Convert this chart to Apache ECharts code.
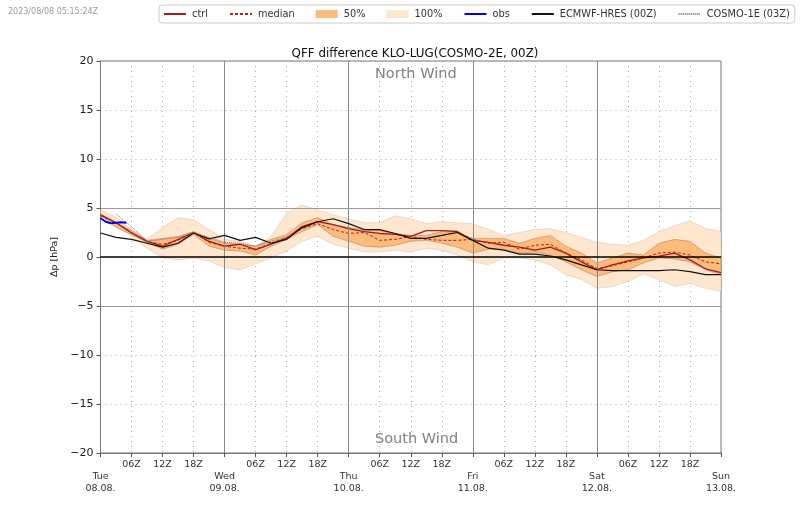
<!DOCTYPE html>
<html><head><meta charset="utf-8">
<style>html,body{margin:0;padding:0;background:#fff}#c{width:800px;height:509px}</style>
<script src="https://cdn.jsdelivr.net/npm/echarts@6/dist/echarts.min.js"></script>
</head><body><div id="c"></div>
<script>
const hours3 = [0,3,6,9,12,15,18,21,24,27,30,33,36,39,42,45,48,51,54,57,60,63,66,69,72,75,78,81,84,87,90,93,96,99,102,105,108,111,114,117,120];
const full_high = [4.8,4.1,2.8,1.8,3.0,4.0,3.8,2.8,1.8,1.6,1.1,2.1,4.5,5.3,4.8,4.3,3.9,3.5,3.5,4.2,3.9,3.4,3.6,3.5,3.4,2.8,2.2,2.5,2.8,2.9,2.5,2.0,1.5,1.3,1.2,1.7,2.6,3.2,3.7,2.9,2.6];
const full_low = [4.1,3.3,2.1,0.9,-0.1,-0.3,-0.1,-0.4,-1.1,-1.3,-0.7,-0.1,0.6,1.6,2.1,1.3,0.9,0.5,0.5,0.7,0.5,0.9,0.7,0.2,-0.5,-0.8,-0.1,-0.1,-0.3,-0.8,-1.8,-2.3,-3.2,-3.0,-2.5,-1.7,-2.3,-3.0,-2.7,-3.2,-3.5];
const half_high = [4.4,3.5,2.7,1.7,1.9,2.1,2.6,1.9,1.4,1.3,1.1,1.8,2.3,3.5,4.0,3.3,3.0,2.8,2.7,2.4,2.2,2.2,2.6,2.5,1.9,1.9,1.9,1.4,1.9,2.2,1.1,0.4,-0.6,-0.1,0.4,0.2,1.4,1.8,1.6,0.4,-0.1];
const half_low = [4.3,3.0,2.3,1.5,0.8,1.3,2.3,1.1,0.7,0.6,0.2,1.1,1.8,2.6,3.3,2.1,1.6,1.1,1.0,1.2,1.6,1.7,1.4,1.0,0.4,0.8,0.8,0.4,0.5,0.2,-0.5,-1.3,-2.0,-1.5,-1.3,-0.6,-0.1,-0.2,-0.5,-1.3,-1.8];
const ctrl = [4.3,3.5,2.45,1.6,1.1,1.8,2.5,1.6,1.1,1.3,0.75,1.3,1.9,3.1,3.6,3.3,2.9,2.6,2.4,2.3,2.1,2.7,2.7,2.6,1.7,1.5,1.2,1.0,0.7,1.0,0.4,-0.5,-1.3,-0.8,-0.4,-0.1,0.1,0.4,-0.3,-1.2,-1.6];
const median = [4.2,3.5,2.5,1.6,1.3,1.7,2.5,1.5,1.1,0.9,0.8,1.4,2.0,2.9,3.4,2.8,2.4,2.5,1.7,1.8,2.1,1.8,1.7,1.7,1.8,1.4,1.5,0.8,1.2,1.3,0.4,-0.3,-1.2,-0.9,-0.5,-0.1,0.4,0.5,0.2,-0.5,-0.7];
const ecmwf = [2.45,2.0,1.8,1.4,1.0,1.4,2.45,1.85,2.2,1.7,2.0,1.4,1.8,3.0,3.6,3.9,3.4,2.8,2.8,2.4,1.9,1.9,2.2,2.5,1.7,0.9,0.7,0.3,0.3,0.1,-0.3,-0.8,-1.3,-1.4,-1.4,-1.4,-1.4,-1.3,-1.5,-1.8,-1.8];
const cosmoHours = [3,6,9,12,15,18,21,24,27,30,33,36];
const cosmo = [4.4,3.1,1.6,1.8,2.0,2.5,2.0,1.5,1.4,1.1,1.6,2.0];
const obsHours = [0,1,2,3,4,5];
const obs = [3.95,3.6,3.45,3.5,3.55,3.5];
const dayLabels = {0:'Tue\n08.08.',24:'Wed\n09.08.',48:'Thu\n10.08.',72:'Fri\n11.08.',96:'Sat\n12.08.',120:'Sun\n13.08.'};
const dayHours = [24,48,72,96];
const solidY = [5,-5];
const FONT = '"DejaVu Sans"';
const pairs = (xs, ys) => xs.map((x,i)=>[x,ys[i]]);
function band(name, low, high, fill, stroke){
  return {
    type:'custom', name, z:1, silent:true, clip:true, animation:false,
    itemStyle:{color:fill},
    data: hours3.map((h,i)=>[h,low[i],high[i]]),
    encode:{x:0,y:[1,2]},
    renderItem(params, api){
      if(params.dataIndex!==0) return null;
      const top = hours3.map((h,i)=>api.coord([h,high[i]]));
      const bot = hours3.map((h,i)=>api.coord([h,low[i]])).reverse();
      return {type:'polygon',shape:{points:top.concat(bot)},style:{fill,stroke,lineWidth:0.8}};
    }
  };
}
const noDot = {color:'rgba(0,0,0,0)',borderWidth:0,borderColor:'rgba(0,0,0,0)'};
const chart = echarts.init(document.getElementById('c'),null,{renderer:'canvas'});
chart.setOption({
  animation:false,
  backgroundColor:'#fff',
  textStyle:{fontFamily:FONT},
  title:{text:'QFF difference KLO-LUG(COSMO-2E, 00Z)',left:410,textAlign:'center',top:43,
    textStyle:{fontSize:11.9,fontWeight:'normal',color:'#111',fontFamily:FONT}},
  legend:{left:159,top:5,padding:[4,5,4,4],itemGap:21,itemWidth:22,itemHeight:8,
    borderColor:'#ccc',borderWidth:1,borderRadius:3,
    textStyle:{fontSize:9.8,color:'#333',fontFamily:FONT,padding:[0,0,0,1]},
    data:[
      {name:'ctrl',itemStyle:noDot},{name:'median',itemStyle:noDot},
      {name:'50%',icon:'rect'},{name:'100%',icon:'rect'},
      {name:'obs',itemStyle:noDot},{name:'ECMWF-HRES (00Z)',itemStyle:noDot},{name:'COSMO-1E (03Z)',itemStyle:noDot}
    ]},
  grid:{show:true,left:100.5,right:79,top:61,bottom:56,borderColor:'#777',borderWidth:1,backgroundColor:'transparent'},
  xAxis:{type:'value',min:0,max:120,interval:6,
    axisLine:{show:true,onZero:false,lineStyle:{color:'#777',width:1}},
    axisTick:{show:true,length:4,lineStyle:{color:'#555',width:1}},
    axisLabel:{color:'#333',fontSize:9.5,lineHeight:12,margin:6,showMinLabel:true,showMaxLabel:true,
      hideOverlap:false,
      formatter:v=>{
        if(dayLabels[v]) return '\n'+dayLabels[v];
        return String(v%24).padStart(2,'0')+'Z';
      }},
    splitLine:{show:true,lineStyle:{color:'#aaa',type:[1,4],width:1}}},
  yAxis:{type:'value',min:-20,max:20,interval:5,name:'Δp [hPa]',nameLocation:'middle',nameGap:28,
    nameTextStyle:{fontSize:9.5,color:'#222',fontFamily:FONT},
    axisLine:{show:true,onZero:false,lineStyle:{color:'#777',width:1}},
    axisTick:{show:true,length:4,lineStyle:{color:'#555',width:1}},
    axisLabel:{color:'#222',fontSize:11,margin:7,formatter:v=>v<0?'\u2212'+(-v):String(v)},
    splitLine:{show:true,lineStyle:{color:'#aaa',type:[1,4],width:1}}},
  graphic:[
    {type:'text',left:8,top:8,silent:true,style:{text:'2023/08/08 05:15:24Z',fill:'#999',font:'8px "DejaVu Sans"'}},
    {type:'text',left:375,top:67,silent:true,style:{text:'North Wind',fill:'#808080',font:'14.5px "DejaVu Sans"'}},
    {type:'text',left:375,top:432,silent:true,style:{text:'South Wind',fill:'#808080',font:'14.5px "DejaVu Sans"'}}
  ],
  series:[
    band('100%',full_low,full_high,'#ffe6cf','rgba(150,120,90,0.25)'),
    band('50%',half_low,half_high,'#fdbb7c','rgba(120,90,60,0.45)'),
    {type:'line',name:'ctrl',z:3,symbol:'none',data:pairs(hours3,ctrl),
      lineStyle:{color:'#a51c1c',width:1.3},itemStyle:{color:'#a51c1c'},
      markLine:{silent:true,symbol:'none',label:{show:false},animation:false,precision:2,
        data:[
          ...dayHours.map(x=>({xAxis:x,lineStyle:{color:'#888',type:'solid',width:1}})),
          ...solidY.map(y=>({yAxis:y,lineStyle:{color:'#999',type:'solid',width:1}})),
          {yAxis:0,lineStyle:{color:'#000',type:'solid',width:1.5}}
        ]}},
    {type:'line',name:'median',z:4,symbol:'none',data:pairs(hours3,median),
      lineStyle:{color:'#b02020',width:1,type:[3,2]},itemStyle:{color:'#b02020'}},
    {type:'line',name:'obs',z:6,symbol:'none',data:pairs(obsHours,obs),
      lineStyle:{color:'#0000ee',width:2},itemStyle:{color:'#0000ee'}},
    {type:'line',name:'ECMWF-HRES (00Z)',z:5,symbol:'none',data:pairs(hours3,ecmwf),
      lineStyle:{color:'#111',width:1.2},itemStyle:{color:'#111'}},
    {type:'line',name:'COSMO-1E (03Z)',z:5,symbol:'none',data:pairs(cosmoHours,cosmo),
      lineStyle:{color:'#777',width:1,type:[1,1]},itemStyle:{color:'#777'}}
  ]
});
</script></body></html>
